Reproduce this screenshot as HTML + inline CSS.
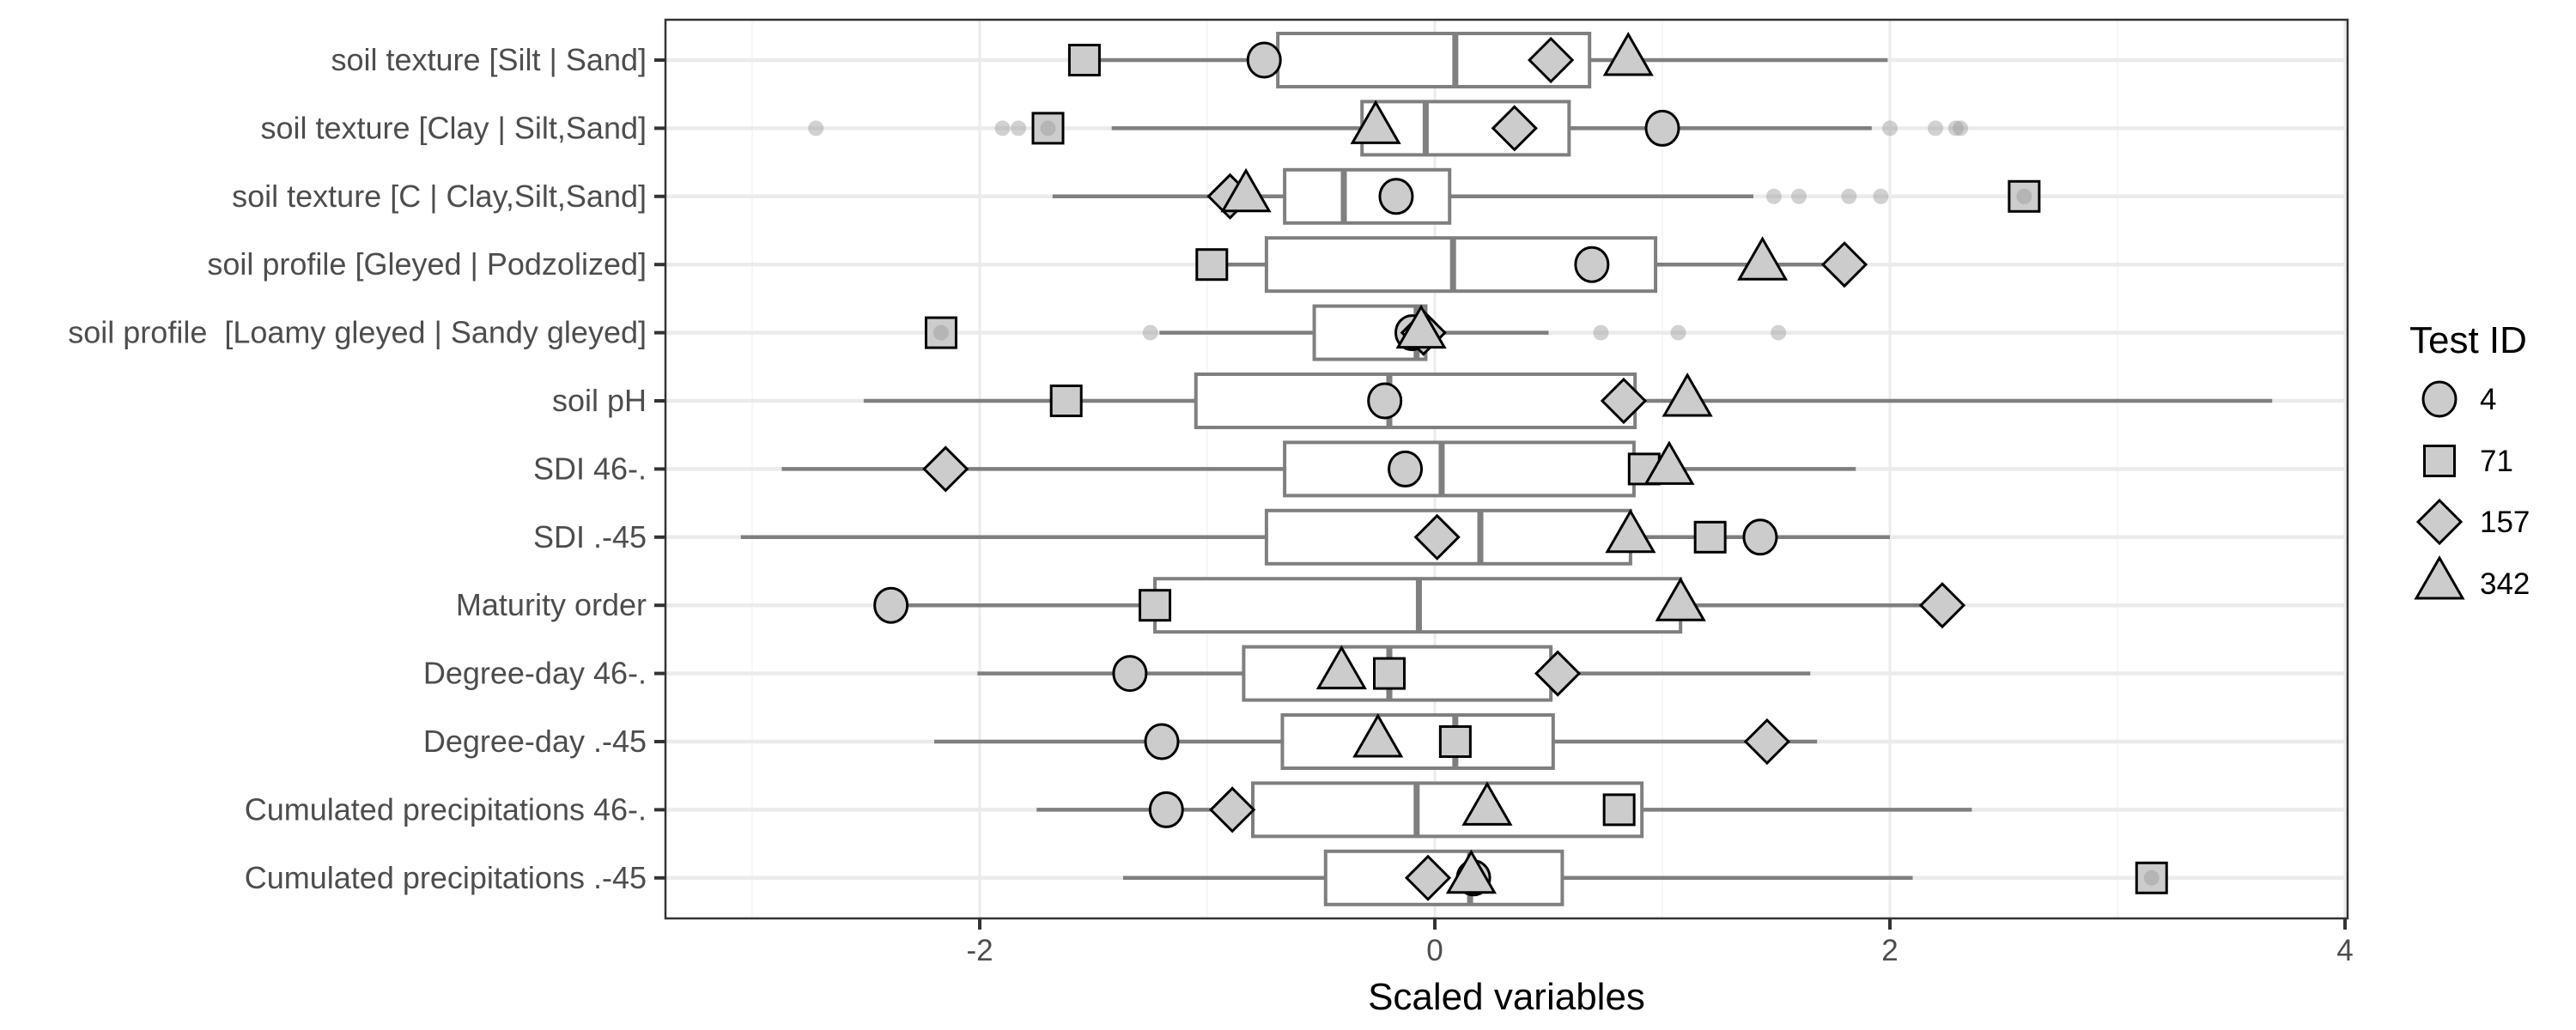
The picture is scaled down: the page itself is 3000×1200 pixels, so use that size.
<!DOCTYPE html>
<html><head><meta charset="utf-8"><style>
html,body{margin:0;padding:0;background:#fff;}
svg{display:block;font-family:"Liberation Sans",Arial,sans-serif;}
text{white-space:pre;}
</style></head><body>
<svg id="chart" width="3000" height="1200" viewBox="0 0 3000 1200" xmlns="http://www.w3.org/2000/svg">
<rect width="3000" height="1200" fill="#fff"/>
<g id="grid"></g>
<g id="boxes"></g>
<g id="points"></g>
<g id="outl"></g>
<g id="axes"></g>
<g id="legend"></g>
</svg>
<script>
const categories = ["soil texture [Silt | Sand]","soil texture [Clay | Silt,Sand]","soil texture [C | Clay,Silt,Sand]","soil profile [Gleyed | Podzolized]","soil profile  [Loamy gleyed | Sandy gleyed]","soil pH","SDI 46-.","SDI .-45","Maturity order","Degree-day 46-.","Degree-day .-45","Cumulated precipitations 46-.","Cumulated precipitations .-45"];
const whiskerLow = [-1.54,-1.42,-1.68,-0.98,-1.21,-2.51,-2.87,-3.05,-2.39,-2.01,-2.20,-1.75,-1.37];
const q1 = [-0.69,-0.32,-0.66,-0.74,-0.53,-1.05,-0.66,-0.74,-1.23,-0.84,-0.67,-0.80,-0.48];
const medians = [0.09,-0.04,-0.40,0.08,-0.08,-0.20,0.03,0.20,-0.07,-0.20,0.09,-0.08,0.155];
const q3 = [0.68,0.59,0.065,0.97,-0.04,0.88,0.875,0.86,1.08,0.51,0.52,0.91,0.56];
const whiskerHigh = [1.99,1.92,1.40,1.80,0.50,3.68,1.85,2.00,2.23,1.65,1.68,2.36,2.10];
const outliers = [[],[-2.72,-1.90,-1.83,-1.70,2.00,2.20,2.29,2.31],[1.49,1.60,1.82,1.96,2.59],[],[-2.17,-1.25,0.73,1.07,1.51],[],[],[],[],[],[],[],[3.15]];
const test4 = [-0.75,1.00,-0.17,0.69,-0.10,-0.22,-0.13,1.43,-2.39,-1.34,-1.20,-1.18,0.17];
const test71 = [-1.54,-1.70,2.59,-0.98,-2.17,-1.62,0.92,1.21,-1.23,-0.20,0.09,0.81,3.15];
const test157 = [0.51,0.35,-0.90,1.80,-0.05,0.83,-2.15,0.01,2.23,0.54,1.46,-0.89,-0.03];
const test342 = [0.85,-0.26,-0.83,1.44,-0.06,1.11,1.03,0.86,1.08,-0.41,-0.25,0.23,0.16];
const xTicks = [-2,0,2,4];
const xMinor = [-3,-1,1,3];
const legendIds = ["4","71","157","342"];

const NS="http://www.w3.org/2000/svg";
const PL=775, PR=2734, PT=23, PB=1070;
const x = v => 1671 + v*265;
const y = i => 70 + i*79.4;
function mk(tag, attrs, parent){const e=document.createElementNS(NS,tag);for(const k in attrs)e.setAttribute(k,attrs[k]);parent.appendChild(e);return e;}
const grid=document.getElementById('grid'), boxes=document.getElementById('boxes'), pts=document.getElementById('points'), outl=document.getElementById('outl'), axes=document.getElementById('axes'), leg=document.getElementById('legend');

xMinor.forEach(v=>{const l=mk('line',{x1:x(v),x2:x(v),y1:PT,y2:PB,stroke:'#f3f3f3','stroke-width':1.5},grid);

});
xTicks.forEach(v=>{const l=mk('line',{x1:x(v),x2:x(v),y1:PT,y2:PB,stroke:'#ebebeb','stroke-width':3},grid);

});
categories.forEach((c,i)=>{const l=mk('line',{x1:PL,x2:PR,y1:y(i),y2:y(i),stroke:'#ebebeb','stroke-width':4.5},grid);

});

const half=31;
categories.forEach((c,i)=>{
  const g=mk('g',{},boxes);
  
  
  mk('line',{x1:x(whiskerLow[i]),x2:x(q1[i]),y1:y(i),y2:y(i),stroke:'#7f7f7f','stroke-width':4.5},g);
  mk('line',{x1:x(q3[i]),x2:x(whiskerHigh[i]),y1:y(i),y2:y(i),stroke:'#7f7f7f','stroke-width':4.5},g);
  mk('rect',{x:x(q1[i]),y:y(i)-half,width:x(q3[i])-x(q1[i]),height:2*half,fill:'#fff',stroke:'#7f7f7f','stroke-width':4},g);
  mk('line',{x1:x(medians[i]),x2:x(medians[i]),y1:y(i)-half,y2:y(i)+half,stroke:'#7f7f7f','stroke-width':7},g);
  outliers[i].forEach(v=>{const o=mk('circle',{cx:x(v),cy:y(i),r:9,fill:'#999','fill-opacity':0.45},outl);
    
    });
});

function shape(kind,cx,cy,parent){
  const st={fill:'#cccccc',stroke:'#000','stroke-width':3};
  if(kind===0) return mk('ellipse',Object.assign({cx:cx,cy:cy,rx:19,ry:20},st),parent);
  if(kind===1) return mk('rect',Object.assign({x:cx-17.5,y:cy-17.5,width:35,height:35},st),parent);
  if(kind===2) return mk('polygon',Object.assign({points:`${cx},${cy-25} ${cx+25},${cy} ${cx},${cy+25} ${cx-25},${cy}`},st),parent);
  return mk('polygon',Object.assign({points:`${cx},${cy-30} ${cx+27},${cy+17} ${cx-27},${cy+17}`},st),parent);
}
const series=[test4,test71,test157,test342];
series.forEach((s,k)=>{s.forEach((v,i)=>{const e=shape(k,x(v),y(i),pts);
  
  });});

const frame=mk('rect',{x:PL,y:PT,width:PR-PL,height:PB-PT,fill:'none',stroke:'#333','stroke-width':2.5},axes);


categories.forEach((c,i)=>{
  mk('line',{x1:PL-13,x2:PL,y1:y(i),y2:y(i),stroke:'#333','stroke-width':4},axes);
  const t=mk('text',{x:753,y:y(i)+12,'text-anchor':'end','font-size':36,fill:'#4d4d4d'},axes);
  t.textContent=c;
  
  
});
xTicks.forEach(v=>{
  mk('line',{x1:x(v),x2:x(v),y1:PB,y2:PB+13,stroke:'#333','stroke-width':4},axes);
  const t=mk('text',{x:x(v),y:1119,'text-anchor':'middle','font-size':35,fill:'#4d4d4d'},axes);
  t.textContent=(v<0?'-'+Math.abs(v):String(v));
  
  
});
const xt=mk('text',{x:(PL+PR)/2,y:1176,'text-anchor':'middle','font-size':44,fill:'#000'},axes);
xt.textContent='Scaled variables';



const lt=mk('text',{x:2806,y:411,'font-size':44,fill:'#000'},leg);
lt.textContent='Test ID';


const ly=[465,537,608,680];
legendIds.forEach((id,k)=>{
  const g=mk('g',{},leg);
  
  
  shape(k,2841,ly[k],g);
  const t=mk('text',{x:2888,y:ly[k]+12,'font-size':35,fill:'#000'},g);
  t.textContent=id;
});
</script>
</body></html>
